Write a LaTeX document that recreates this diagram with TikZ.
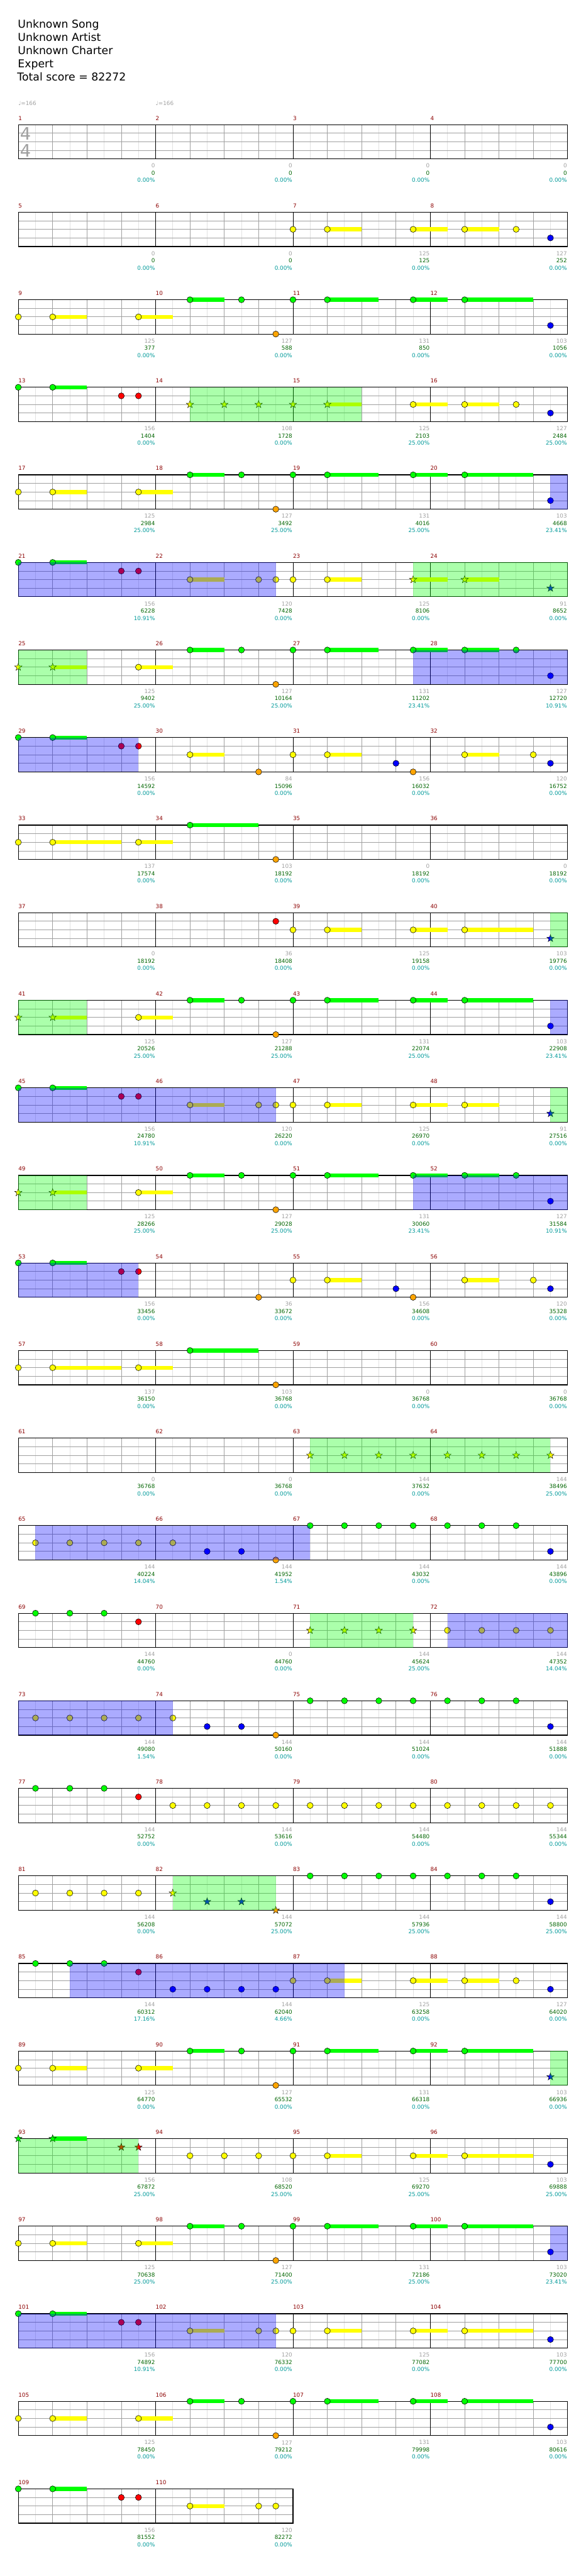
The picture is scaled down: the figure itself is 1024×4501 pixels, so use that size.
\documentclass[tikz,border=0pt]{standalone}
\usepackage{fontspec}
\setmainfont{DejaVu Sans}
\definecolor{lane0}{HTML}{00FF00}
\definecolor{lane1}{HTML}{FF0000}
\definecolor{lane2}{HTML}{FFFF00}
\definecolor{lane3}{HTML}{0000FF}
\definecolor{lane4}{HTML}{FFA500}
\definecolor{barRed}{HTML}{8B0000}
\definecolor{lblGray}{HTML}{A0A0A0}
\definecolor{lblGreen}{HTML}{006400}
\definecolor{lblTeal}{HTML}{009999}
\definecolor{gridLight}{HTML}{E2E2E2}
\definecolor{gridMid}{HTML}{A0A0A0}

\newcommand\eightw{30}
% staff of one row: first measure, number of measures
\newcommand\grid[2]{%
  \pgfmathtruncatemacro\nE{#2*8}
  \pgfmathtruncatemacro\mbase{#1-1}
  \foreach \i in {1,...,\nE} \draw[eighthline] (\i*\eightw,0) -- (\i*\eightw,60);
  \foreach \l in {15,30,45} \draw[laneline] (0,\l) -- (\nE*\eightw,\l);
  \foreach \i in {2,4,...,\nE} \draw[beatline] (\i*\eightw,0) -- (\i*\eightw,60);
  \foreach \i in {8,16,...,\nE} \draw[barline] (\i*\eightw,0) -- (\i*\eightw,60);
  \draw[staffframe] (0,0) rectangle (\nE*\eightw,60);
  \foreach \k in {1,...,#2} {
    \pgfmathtruncatemacro\mn{#1+\k-1}
    \node[mnum] (mn\mn) at ({(\k-1)*8*\eightw},-11.3) {\mn};
  }
}
\newcommand\nt[2]{\filldraw[notehead, fill=lane#1] (#2*\eightw,#1*15) circle[radius=5.3];}
\newcommand\sus[3]{\fill[lane#1] (#2*\eightw,#1*15-3.5) rectangle (#3*\eightw,#1*15+3.5);}
\newcommand\starnote[2]{\filldraw[starhead, fill=lane#1] (#2*\eightw,#1*15)
  +(-90:6.8) -- +(-54:2.7) -- +(-18:6.8) -- +(18:2.7) -- +(54:6.8) -- +(90:2.7)
  -- +(126:6.8) -- +(162:2.7) -- +(198:6.8) -- +(234:2.7) -- cycle;}
\newcommand\spzone[2]{\fill[lane0, fill opacity=0.33] (#1*\eightw,0) rectangle (#2*\eightw,60);}
\newcommand\actzone[2]{\fill[lane3, fill opacity=0.33] (#1*\eightw,0) rectangle (#2*\eightw,60);}
% numbers under the end of a measure
\newcommand\mscore[4]{%
  \pgfmathsetmacro\xb{(#1-\mbase)*8*\eightw-1}
  \node[sgray] (g#1) at (\xb,72) {#2};
  \node[sgreen] (t#1) at (\xb,84.7) {#3};
  \node[steal] (p#1) at (\xb,97.3) {#4\%};
}

\begin{document}
\begin{tikzpicture}[x=1pt, y=-1pt,
  chartrow/.style={shift={(32,{217.7+(#1-1)*153})}},
  eighthline/.style={draw=gridLight, line width=0.8},
  laneline/.style={draw=gridMid, line width=0.9},
  beatline/.style={draw=gridMid, line width=0.9},
  barline/.style={draw=black, line width=0.9},
  staffframe/.style={draw=black, line width=1.3},
  notehead/.style={draw=black, line width=0.6},
  starhead/.style={draw=black, line width=0.5},
  smallfont/.style={inner sep=0, font=\fontsize{9.7}{11}\selectfont},
  mnum/.style={smallfont, anchor=west, text=barRed},
  sgray/.style={smallfont, anchor=east, text=lblGray},
  sgreen/.style={smallfont, anchor=east, text=lblGreen},
  steal/.style={smallfont, anchor=east, text=lblTeal},
  tempo/.style={smallfont, anchor=base west, text=lblGray},
  tsig/.style={inner sep=0, text=lblGray, font=\fontsize{30}{30}\selectfont},
  title/.style={inner sep=0, anchor=base west, font=\fontsize{19}{22}\selectfont}
]
\useasboundingbox (0,0) rectangle (1024,4501);

\node[title] (song) at (31,49.3) {Unknown Song};
\node[title] (artist) at (31,72.2) {Unknown Artist};
\node[title] (charter) at (31,95.1) {Unknown Charter};
\node[title] (level) at (31,118) {Expert};
\node[title] (total) at (30,140.9) {Total score = 82272};

% row 1
\begin{scope}[chartrow=1]
  \grid{1}{4}
  \node[tempo] (bpm1) at (0,-33.2) {♩=166};
  \node[tempo] (bpm2) at (8*\eightw,-33.2) {♩=166};
  \node[tsig] (tsTop) at (12.5,15.6) {4};
  \node[tsig] (tsBot) at (12.5,45.6) {4};
  \mscore{1}{0}{0}{0.00} \mscore{2}{0}{0}{0.00} \mscore{3}{0}{0}{0.00} \mscore{4}{0}{0}{0.00}
\end{scope}

% row 2
\begin{scope}[chartrow=2]
  \grid{5}{4}
  \foreach \l/\a/\b in {2/18/20, 2/23/25, 2/26/28} \sus{\l}{\a}{\b};
  \foreach \l/\p in {2/16, 2/18, 2/23, 2/26, 2/29, 3/31} \nt{\l}{\p};
  \mscore{5}{0}{0}{0.00} \mscore{6}{0}{0}{0.00} \mscore{7}{125}{125}{0.00} \mscore{8}{127}{252}{0.00}
\end{scope}

% row 3
\begin{scope}[chartrow=3]
  \grid{9}{4}
  \foreach \l/\a/\b in {2/2/4, 2/7/9, 0/10/12, 0/18/21, 0/23/25, 0/26/30} \sus{\l}{\a}{\b};
  \foreach \l/\p in {2/0, 2/2, 2/7, 0/10, 0/13, 4/15, 0/16, 0/18, 0/23, 0/26, 3/31} \nt{\l}{\p};
  \mscore{9}{125}{377}{0.00} \mscore{10}{127}{588}{0.00} \mscore{11}{131}{850}{0.00} \mscore{12}{103}{1056}{0.00}
\end{scope}

% row 4
\begin{scope}[chartrow=4]
  \grid{13}{4}
  \foreach \l/\a/\b in {0/2/4, 2/18/20, 2/23/25, 2/26/28} \sus{\l}{\a}{\b};
  \foreach \l/\p in {0/0, 0/2, 1/6, 1/7, 2/23, 2/26, 2/29, 3/31} \nt{\l}{\p};
  \foreach \p in {10,12,...,18} \starnote{2}{\p};
  \spzone{10}{20}
  \mscore{13}{156}{1404}{0.00} \mscore{14}{108}{1728}{0.00} \mscore{15}{125}{2103}{25.00} \mscore{16}{127}{2484}{25.00}
\end{scope}

% row 5
\begin{scope}[chartrow=5]
  \grid{17}{4}
  \foreach \l/\a/\b in {2/2/4, 2/7/9, 0/10/12, 0/18/21, 0/23/25, 0/26/30} \sus{\l}{\a}{\b};
  \foreach \l/\p in {2/0, 2/2, 2/7, 0/10, 0/13, 4/15, 0/16, 0/18, 0/23, 0/26, 3/31} \nt{\l}{\p};
  \actzone{31}{32}
  \mscore{17}{125}{2984}{25.00} \mscore{18}{127}{3492}{25.00} \mscore{19}{131}{4016}{25.00} \mscore{20}{103}{4668}{23.41}
\end{scope}

% row 6
\begin{scope}[chartrow=6]
  \grid{21}{4}
  \foreach \l/\a/\b in {0/2/4, 2/10/12, 2/18/20, 2/23/25, 2/26/28} \sus{\l}{\a}{\b};
  \foreach \l/\p in {0/0, 0/2, 1/6, 1/7, 2/10, 2/14, 2/15, 2/16, 2/18} \nt{\l}{\p};
  \foreach \l/\p in {2/23, 2/26, 3/31} \starnote{\l}{\p};
  \actzone{0}{15} \spzone{23}{32}
  \mscore{21}{156}{6228}{10.91} \mscore{22}{120}{7428}{0.00} \mscore{23}{125}{8106}{0.00} \mscore{24}{91}{8652}{0.00}
\end{scope}

% row 7
\begin{scope}[chartrow=7]
  \grid{25}{4}
  \foreach \l/\a/\b in {2/2/4, 2/7/9, 0/10/12, 0/18/21, 0/23/25, 0/26/28} \sus{\l}{\a}{\b};
  \foreach \l/\p in {2/7, 0/10, 0/13, 4/15, 0/16, 0/18, 0/23, 0/26, 0/29, 3/31} \nt{\l}{\p};
  \foreach \l/\p in {2/0, 2/2} \starnote{\l}{\p};
  \spzone{0}{4} \actzone{23}{32}
  \mscore{25}{125}{9402}{25.00} \mscore{26}{127}{10164}{25.00} \mscore{27}{131}{11202}{23.41} \mscore{28}{127}{12720}{10.91}
\end{scope}

% row 8
\begin{scope}[chartrow=8]
  \grid{29}{4}
  \foreach \l/\a/\b in {0/2/4, 2/10/12, 2/18/20, 2/26/28} \sus{\l}{\a}{\b};
  \foreach \l/\p in {0/0, 0/2, 1/6, 1/7, 2/10, 4/14, 2/16, 2/18, 3/22, 4/23, 2/26, 2/30, 3/31} \nt{\l}{\p};
  \actzone{0}{7}
  \mscore{29}{156}{14592}{0.00} \mscore{30}{84}{15096}{0.00} \mscore{31}{156}{16032}{0.00} \mscore{32}{120}{16752}{0.00}
\end{scope}

% row 9
\begin{scope}[chartrow=9]
  \grid{33}{4}
  \foreach \l/\a/\b in {2/2/6, 2/7/9, 0/10/14} \sus{\l}{\a}{\b};
  \foreach \l/\p in {2/0, 2/2, 2/7, 0/10, 4/15} \nt{\l}{\p};
  \mscore{33}{137}{17574}{0.00} \mscore{34}{103}{18192}{0.00} \mscore{35}{0}{18192}{0.00} \mscore{36}{0}{18192}{0.00}
\end{scope}

% row 10
\begin{scope}[chartrow=10]
  \grid{37}{4}
  \foreach \l/\a/\b in {2/18/20, 2/23/25, 2/26/30} \sus{\l}{\a}{\b};
  \foreach \l/\p in {1/15, 2/16, 2/18, 2/23, 2/26} \nt{\l}{\p};
  \starnote{3}{31}
  \spzone{31}{32}
  \mscore{37}{0}{18192}{0.00} \mscore{38}{36}{18408}{0.00} \mscore{39}{125}{19158}{0.00} \mscore{40}{103}{19776}{0.00}
\end{scope}

% row 11
\begin{scope}[chartrow=11]
  \grid{41}{4}
  \foreach \l/\a/\b in {2/2/4, 2/7/9, 0/10/12, 0/18/21, 0/23/25, 0/26/30} \sus{\l}{\a}{\b};
  \foreach \l/\p in {2/7, 0/10, 0/13, 4/15, 0/16, 0/18, 0/23, 0/26, 3/31} \nt{\l}{\p};
  \foreach \l/\p in {2/0, 2/2} \starnote{\l}{\p};
  \spzone{0}{4} \actzone{31}{32}
  \mscore{41}{125}{20526}{25.00} \mscore{42}{127}{21288}{25.00} \mscore{43}{131}{22074}{25.00} \mscore{44}{103}{22908}{23.41}
\end{scope}

% row 12
\begin{scope}[chartrow=12]
  \grid{45}{4}
  \foreach \l/\a/\b in {0/2/4, 2/10/12, 2/18/20, 2/23/25, 2/26/28} \sus{\l}{\a}{\b};
  \foreach \l/\p in {0/0, 0/2, 1/6, 1/7, 2/10, 2/14, 2/15, 2/16, 2/18, 2/23, 2/26} \nt{\l}{\p};
  \starnote{3}{31}
  \actzone{0}{15} \spzone{31}{32}
  \mscore{45}{156}{24780}{10.91} \mscore{46}{120}{26220}{0.00} \mscore{47}{125}{26970}{0.00} \mscore{48}{91}{27516}{0.00}
\end{scope}

% row 13
\begin{scope}[chartrow=13]
  \grid{49}{4}
  \foreach \l/\a/\b in {2/2/4, 2/7/9, 0/10/12, 0/18/21, 0/23/25, 0/26/28} \sus{\l}{\a}{\b};
  \foreach \l/\p in {2/7, 0/10, 0/13, 4/15, 0/16, 0/18, 0/23, 0/26, 0/29, 3/31} \nt{\l}{\p};
  \foreach \l/\p in {2/0, 2/2} \starnote{\l}{\p};
  \spzone{0}{4} \actzone{23}{32}
  \mscore{49}{125}{28266}{25.00} \mscore{50}{127}{29028}{25.00} \mscore{51}{131}{30060}{23.41} \mscore{52}{127}{31584}{10.91}
\end{scope}

% row 14
\begin{scope}[chartrow=14]
  \grid{53}{4}
  \foreach \l/\a/\b in {0/2/4, 2/18/20, 2/26/28} \sus{\l}{\a}{\b};
  \foreach \l/\p in {0/0, 0/2, 1/6, 1/7, 4/14, 2/16, 2/18, 3/22, 4/23, 2/26, 2/30, 3/31} \nt{\l}{\p};
  \actzone{0}{7}
  \mscore{53}{156}{33456}{0.00} \mscore{54}{36}{33672}{0.00} \mscore{55}{156}{34608}{0.00} \mscore{56}{120}{35328}{0.00}
\end{scope}

% row 15
\begin{scope}[chartrow=15]
  \grid{57}{4}
  \foreach \l/\a/\b in {2/2/6, 2/7/9, 0/10/14} \sus{\l}{\a}{\b};
  \foreach \l/\p in {2/0, 2/2, 2/7, 0/10, 4/15} \nt{\l}{\p};
  \mscore{57}{137}{36150}{0.00} \mscore{58}{103}{36768}{0.00} \mscore{59}{0}{36768}{0.00} \mscore{60}{0}{36768}{0.00}
\end{scope}

% row 16
\begin{scope}[chartrow=16]
  \grid{61}{4}
  \foreach \p in {17,19,...,31} \starnote{2}{\p};
  \spzone{17}{31}
  \mscore{61}{0}{36768}{0.00} \mscore{62}{0}{36768}{0.00} \mscore{63}{144}{37632}{0.00} \mscore{64}{144}{38496}{25.00}
\end{scope}

% row 17
\begin{scope}[chartrow=17]
  \grid{65}{4}
  \foreach \l/\p in {2/1, 2/3, 2/5, 2/7, 2/9, 3/11, 3/13, 4/15, 0/17, 0/19, 0/21, 0/23, 0/25, 0/27, 0/29, 3/31} \nt{\l}{\p};
  \actzone{1}{17}
  \mscore{65}{144}{40224}{14.04} \mscore{66}{144}{41952}{1.54} \mscore{67}{144}{43032}{0.00} \mscore{68}{144}{43896}{0.00}
\end{scope}

% row 18
\begin{scope}[chartrow=18]
  \grid{69}{4}
  \foreach \l/\p in {0/1, 0/3, 0/5, 1/7, 2/25, 2/27, 2/29, 2/31} \nt{\l}{\p};
  \foreach \p in {17,19,21,23} \starnote{2}{\p};
  \spzone{17}{23} \actzone{25}{32}
  \mscore{69}{144}{44760}{0.00} \mscore{70}{0}{44760}{0.00} \mscore{71}{144}{45624}{25.00} \mscore{72}{144}{47352}{14.04}
\end{scope}

% row 19
\begin{scope}[chartrow=19]
  \grid{73}{4}
  \foreach \l/\p in {2/1, 2/3, 2/5, 2/7, 2/9, 3/11, 3/13, 4/15, 0/17, 0/19, 0/21, 0/23, 0/25, 0/27, 0/29, 3/31} \nt{\l}{\p};
  \actzone{0}{9}
  \mscore{73}{144}{49080}{1.54} \mscore{74}{144}{50160}{0.00} \mscore{75}{144}{51024}{0.00} \mscore{76}{144}{51888}{0.00}
\end{scope}

% row 20
\begin{scope}[chartrow=20]
  \grid{77}{4}
  \foreach \l/\p in {0/1, 0/3, 0/5, 1/7} \nt{\l}{\p};
  \foreach \p in {9,11,...,31} \nt{2}{\p};
  \mscore{77}{144}{52752}{0.00} \mscore{78}{144}{53616}{0.00} \mscore{79}{144}{54480}{0.00} \mscore{80}{144}{55344}{0.00}
\end{scope}

% row 21
\begin{scope}[chartrow=21]
  \grid{81}{4}
  \foreach \l/\p in {2/1, 2/3, 2/5, 2/7, 0/17, 0/19, 0/21, 0/23, 0/25, 0/27, 0/29, 3/31} \nt{\l}{\p};
  \foreach \l/\p in {2/9, 3/11, 3/13, 4/15} \starnote{\l}{\p};
  \spzone{9}{15}
  \mscore{81}{144}{56208}{0.00} \mscore{82}{144}{57072}{25.00} \mscore{83}{144}{57936}{25.00} \mscore{84}{144}{58800}{25.00}
\end{scope}

% row 22
\begin{scope}[chartrow=22]
  \grid{85}{4}
  \foreach \l/\a/\b in {2/18/20, 2/23/25, 2/26/28} \sus{\l}{\a}{\b};
  \foreach \l/\p in {0/1, 0/3, 0/5, 1/7, 3/9, 3/11, 3/13, 3/15, 2/16, 2/18, 2/23, 2/26, 2/29, 3/31} \nt{\l}{\p};
  \actzone{3}{19}
  \mscore{85}{144}{60312}{17.16} \mscore{86}{144}{62040}{4.66} \mscore{87}{125}{63258}{0.00} \mscore{88}{127}{64020}{0.00}
\end{scope}

% row 23
\begin{scope}[chartrow=23]
  \grid{89}{4}
  \foreach \l/\a/\b in {2/2/4, 2/7/9, 0/10/12, 0/18/21, 0/23/25, 0/26/30} \sus{\l}{\a}{\b};
  \foreach \l/\p in {2/0, 2/2, 2/7, 0/10, 0/13, 4/15, 0/16, 0/18, 0/23, 0/26} \nt{\l}{\p};
  \starnote{3}{31}
  \spzone{31}{32}
  \mscore{89}{125}{64770}{0.00} \mscore{90}{127}{65532}{0.00} \mscore{91}{131}{66318}{0.00} \mscore{92}{103}{66936}{0.00}
\end{scope}

% row 24
\begin{scope}[chartrow=24]
  \grid{93}{4}
  \foreach \l/\a/\b in {0/2/4, 2/18/20, 2/23/25, 2/26/30} \sus{\l}{\a}{\b};
  \foreach \l/\p in {2/10, 2/12, 2/14, 2/16, 2/18, 2/23, 2/26, 3/31} \nt{\l}{\p};
  \foreach \l/\p in {0/0, 0/2, 1/6, 1/7} \starnote{\l}{\p};
  \spzone{0}{7}
  \mscore{93}{156}{67872}{25.00} \mscore{94}{108}{68520}{25.00} \mscore{95}{125}{69270}{25.00} \mscore{96}{103}{69888}{25.00}
\end{scope}

% row 25
\begin{scope}[chartrow=25]
  \grid{97}{4}
  \foreach \l/\a/\b in {2/2/4, 2/7/9, 0/10/12, 0/18/21, 0/23/25, 0/26/30} \sus{\l}{\a}{\b};
  \foreach \l/\p in {2/0, 2/2, 2/7, 0/10, 0/13, 4/15, 0/16, 0/18, 0/23, 0/26, 3/31} \nt{\l}{\p};
  \actzone{31}{32}
  \mscore{97}{125}{70638}{25.00} \mscore{98}{127}{71400}{25.00} \mscore{99}{131}{72186}{25.00} \mscore{100}{103}{73020}{23.41}
\end{scope}

% row 26
\begin{scope}[chartrow=26]
  \grid{101}{4}
  \foreach \l/\a/\b in {0/2/4, 2/10/12, 2/18/20, 2/23/25, 2/26/30} \sus{\l}{\a}{\b};
  \foreach \l/\p in {0/0, 0/2, 1/6, 1/7, 2/10, 2/14, 2/15, 2/16, 2/18, 2/23, 2/26, 3/31} \nt{\l}{\p};
  \actzone{0}{15}
  \mscore{101}{156}{74892}{10.91} \mscore{102}{120}{76332}{0.00} \mscore{103}{125}{77082}{0.00} \mscore{104}{103}{77700}{0.00}
\end{scope}

% row 27
\begin{scope}[chartrow=27]
  \grid{105}{4}
  \foreach \l/\a/\b in {2/2/4, 2/7/9, 0/10/12, 0/18/21, 0/23/25, 0/26/30} \sus{\l}{\a}{\b};
  \foreach \l/\p in {2/0, 2/2, 2/7, 0/10, 0/13, 4/15, 0/16, 0/18, 0/23, 0/26, 3/31} \nt{\l}{\p};
  \mscore{105}{125}{78450}{0.00} \mscore{106}{127}{79212}{0.00} \mscore{107}{131}{79998}{0.00} \mscore{108}{103}{80616}{0.00}
\end{scope}

% row 28
\begin{scope}[chartrow=28]
  \grid{109}{2}
  \foreach \l/\a/\b in {0/2/4, 2/10/12} \sus{\l}{\a}{\b};
  \foreach \l/\p in {0/0, 0/2, 1/6, 1/7, 2/10, 2/14, 2/15} \nt{\l}{\p};
  \mscore{109}{156}{81552}{0.00} \mscore{110}{120}{82272}{0.00}
\end{scope}
\end{tikzpicture}
\end{document}
